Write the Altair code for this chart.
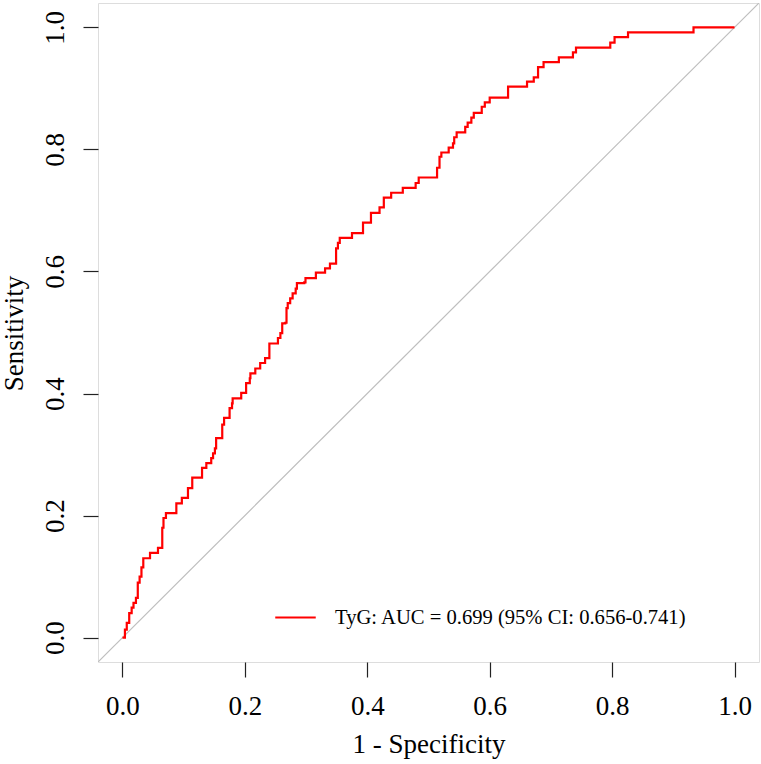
import altair as alt
import pandas as pd

# ROC curve vertices (1 - specificity, sensitivity)
fpr = [0, 0.004, 0.007, 0.011, 0.015, 0.018, 0.022, 0.025, 0.028, 0.031, 0.034, 0.045, 0.045,
       0.058, 0.058, 0.062, 0.065, 0.067, 0.071, 0.088, 0.088, 0.096, 0.097, 0.106, 0.107, 0.114,
       0.114, 0.129, 0.130, 0.136, 0.137, 0.143, 0.145, 0.148, 0.151, 0.153, 0.161, 0.163, 0.166,
       0.172, 0.175, 0.179, 0.180, 0.194, 0.194, 0.200, 0.202, 0.208, 0.209, 0.216, 0.217, 0.224,
       0.225, 0.232, 0.233, 0.239, 0.240, 0.253, 0.254, 0.258, 0.261, 0.266, 0.268, 0.270, 0.274,
       0.278, 0.283, 0.285, 0.297, 0.299, 0.315, 0.316, 0.330, 0.331, 0.338, 0.339, 0.346, 0.349,
       0.352, 0.355, 0.374, 0.375, 0.392, 0.393, 0.405, 0.406, 0.418, 0.420, 0.425, 0.427, 0.438,
       0.439, 0.457, 0.458, 0.477, 0.479, 0.484, 0.513, 0.514, 0.518, 0.521, 0.533, 0.533, 0.540,
       0.542, 0.546, 0.559, 0.560, 0.564, 0.570, 0.574, 0.586, 0.587, 0.592, 0.600, 0.627, 0.630,
       0.660, 0.661, 0.670, 0.672, 0.677, 0.679, 0.687, 0.688, 0.711, 0.713, 0.734, 0.736, 0.740,
       0.741, 0.796, 0.797, 0.803, 0.804, 0.825, 0.826, 0.932, 0.933, 1.0]
tpr = [0, 0.013, 0.024, 0.040, 0.049, 0.057, 0.065, 0.090, 0.100, 0.115, 0.130, 0.130, 0.139,
       0.139, 0.147, 0.147, 0.180, 0.196, 0.204, 0.204, 0.220, 0.220, 0.229, 0.229, 0.245, 0.245,
       0.262, 0.262, 0.278, 0.278, 0.286, 0.286, 0.294, 0.302, 0.310, 0.327, 0.327, 0.349, 0.360,
       0.360, 0.376, 0.384, 0.392, 0.392, 0.401, 0.401, 0.417, 0.425, 0.433, 0.433, 0.441, 0.441,
       0.450, 0.450, 0.458, 0.458, 0.482, 0.482, 0.491, 0.499, 0.515, 0.516, 0.540, 0.548, 0.556,
       0.564, 0.572, 0.581, 0.582, 0.589, 0.589, 0.598, 0.598, 0.605, 0.605, 0.613, 0.613, 0.638,
       0.647, 0.655, 0.655, 0.663, 0.663, 0.680, 0.680, 0.696, 0.696, 0.705, 0.705, 0.721, 0.721,
       0.729, 0.729, 0.737, 0.737, 0.745, 0.754, 0.754, 0.770, 0.788, 0.795, 0.795, 0.803, 0.810,
       0.820, 0.828, 0.828, 0.837, 0.844, 0.852, 0.860, 0.860, 0.870, 0.877, 0.885, 0.885, 0.903,
       0.903, 0.911, 0.911, 0.918, 0.918, 0.935, 0.935, 0.943, 0.943, 0.951, 0.951, 0.959, 0.959,
       0.967, 0.967, 0.975, 0.975, 0.984, 0.984, 0.992, 0.992, 1.0, 1.0]

series_label = "TyG: AUC = 0.699 (95% CI: 0.656-0.741)"
tick_values = [0.0, 0.2, 0.4, 0.6, 0.8, 1.0]
axis_range = [-0.04, 1.04]
diag_x = [-0.04, 1.04]

roc = pd.DataFrame({"fpr": fpr, "tpr": tpr, "order": list(range(len(fpr))),
                    "series": [series_label] * len(fpr)})
diag = pd.DataFrame({"x": diag_x, "y": diag_x})

FONT = "Liberation Serif"

xscale = alt.Scale(domain=axis_range, nice=False, zero=False)
yscale = alt.Scale(domain=axis_range, nice=False, zero=False)

x_axis = alt.Axis(values=tick_values, format=".1f", title="1 - Specificity",
                  grid=False, domain=False, tickSize=15, tickColor="#222222", tickWidth=1.2,
                  labelFontSize=27, labelColor="black", labelFont=FONT,
                  labelBaseline="alphabetic", labelPadding=37,
                  titleFontSize=27, titleFont=FONT, titleFontWeight="normal",
                  titleColor="black", titleX=330.5, titleY=90.5,
                  titleBaseline="alphabetic", titleAlign="center")
y_axis = alt.Axis(values=tick_values, format=".1f", title="Sensitivity",
                  grid=False, domain=False, tickSize=15, tickColor="#222222", tickWidth=1.2,
                  labelFontSize=27, labelColor="black", labelFont=FONT,
                  labelAngle=270, labelAlign="center", labelBaseline="alphabetic",
                  labelPadding=20,
                  titleFontSize=27, titleFont=FONT, titleFontWeight="normal",
                  titleColor="black", titleX=-76, titleY=330,
                  titleAngle=270, titleBaseline="alphabetic", titleAlign="center")

diag_line = alt.Chart(diag).mark_line(color="#BEBEBE", strokeWidth=1.2, clip=True).encode(
    x=alt.X("x:Q", scale=xscale, axis=x_axis),
    y=alt.Y("y:Q", scale=yscale, axis=y_axis),
)

roc_line = alt.Chart(roc).mark_line(strokeWidth=2.2, interpolate="step-after", clip=True).encode(
    x=alt.X("fpr:Q", scale=xscale, axis=x_axis),
    y=alt.Y("tpr:Q", scale=yscale, axis=y_axis),
    order="order:Q",
    color=alt.Color("series:N",
                    scale=alt.Scale(domain=[series_label], range=["#FF0000"]),
                    legend=alt.Legend(title=None, orient="none", legendX=176, legendY=593,
                                      symbolType="stroke", symbolSize=1640,
                                      symbolStrokeWidth=2.2, labelFontSize=20.6,
                                      labelFont=FONT, labelColor="black",
                                      labelOffset=18, padding=0, labelLimit=600)),
)

chart = alt.layer(diag_line, roc_line).properties(
    width=661, height=659,
    autosize=alt.AutoSizeParams(type="none"),
    padding={"left": 98, "top": 3, "right": 2, "bottom": 102},
).configure_view(stroke="#222222", strokeWidth=1.2).configure(background="white")

chart.save("out.html", embed_options={"renderer": "svg", "actions": False})
